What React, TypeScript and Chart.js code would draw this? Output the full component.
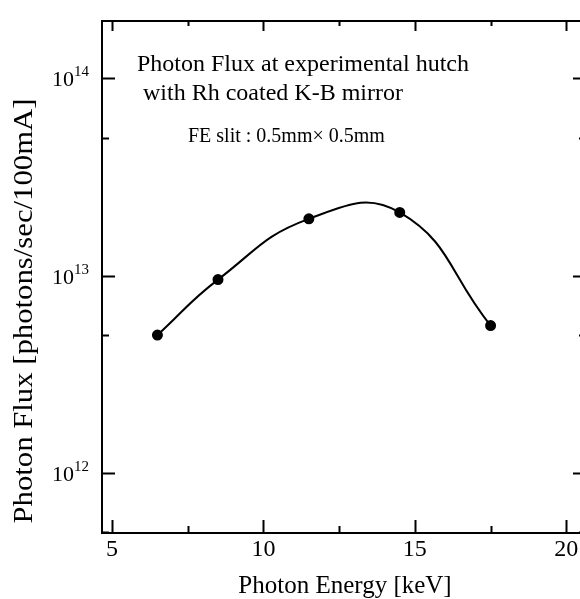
import React, { useEffect, useRef } from "react";
import { Chart, registerables } from "chart.js";

Chart.register(...registerables);

// ---- data ----
const photonEnergy = [6.5, 8.5, 11.5, 14.5, 17.5]; // keV
const photonFlux = [5.0e12, 9.55e12, 1.94e13, 2.09e13, 5.59e12]; // photons/sec/100mA

const xMajorTicks = [5, 10, 15, 20];
const xMinorTicks = [7.5, 12.5, 17.5];
const yMajorTicks = [1e12, 1e13, 1e14];
const yMinorTicks = [5e11, 5e12, 5e13];

const annotationLines = [
  "Photon Flux at experimental hutch",
  "with Rh coated K-B mirror",
  "FE slit : 0.5mm\u00d7 0.5mm",
];
const xTitle = "Photon Energy [keV]";
const yTitle = "Photon Flux [photons/sec/100mA]";

const SERIF = "'Liberation Serif', 'Times New Roman', serif";

const framePlugin = {
  id: "framePlugin",
  afterDraw(chart: any) {
    const { ctx, chartArea, scales } = chart;
    const xs = scales.x;
    const ys = scales.y;
    const { left, right, top, bottom } = chartArea;
    ctx.save();
    ctx.strokeStyle = "#000";
    ctx.fillStyle = "#000";
    ctx.lineWidth = 2;
    // frame
    ctx.beginPath();
    ctx.rect(left, top, right - left, bottom - top);
    ctx.stroke();
    // x ticks (bottom + top, inward)
    const drawX = (v: number, len: number, lenTop: number) => {
      const px = Math.round(xs.getPixelForValue(v)) + 0.5;
      ctx.beginPath();
      ctx.moveTo(px, bottom);
      ctx.lineTo(px, bottom - len);
      ctx.moveTo(px, top);
      ctx.lineTo(px, top + lenTop);
      ctx.stroke();
    };
    xMajorTicks.forEach((v) => drawX(v, 13, 10));
    xMinorTicks.forEach((v) => drawX(v, 7, 5));
    const drawY = (v: number, len: number) => {
      const py = Math.round(ys.getPixelForValue(v)) + 0.5;
      ctx.beginPath();
      ctx.moveTo(left, py);
      ctx.lineTo(left + len, py);
      ctx.moveTo(right, py);
      ctx.lineTo(right - len, py);
      ctx.stroke();
    };
    yMajorTicks.forEach((v) => drawY(v, 13));
    yMinorTicks.forEach((v) => drawY(v, 7));

    // y tick labels 10^n
    yMajorTicks.forEach((v) => {
      const py = ys.getPixelForValue(v);
      const exp = Math.round(Math.log10(v));
      ctx.font = `22px ${SERIF}`;
      ctx.textAlign = "right";
      ctx.textBaseline = "alphabetic";
      ctx.fillText("10", 74, py + 8);
      ctx.font = `15px ${SERIF}`;
      ctx.textAlign = "left";
      ctx.fillText(String(exp), 74, py - 2);
    });

    // annotations
    ctx.textAlign = "left";
    ctx.textBaseline = "alphabetic";
    ctx.font = `24px ${SERIF}`;
    ctx.fillText(annotationLines[0], 137, 71);
    ctx.fillText(annotationLines[1], 143, 100);
    ctx.font = `20px ${SERIF}`;
    ctx.fillText(annotationLines[2], 188, 142);

    // x title
    ctx.font = `25px ${SERIF}`;
    ctx.textAlign = "center";
    ctx.fillText(xTitle, 345, 593);

    // y title (rotated)
    ctx.save();
    ctx.translate(32, 311);
    ctx.rotate(-Math.PI / 2);
    ctx.font = `27px ${SERIF}`;
    const w = ctx.measureText(yTitle).width;
    const sx = 425 / w;
    ctx.scale(sx, 1);
    ctx.textAlign = "center";
    ctx.fillText(yTitle, 0, 0);
    ctx.restore();

    ctx.restore();
  },
};

export default function App() {
  const canvasRef = useRef<HTMLCanvasElement | null>(null);

  useEffect(() => {
    if (!canvasRef.current) return;
    const chart = new Chart(canvasRef.current, {
      type: "line",
      data: {
        datasets: [
          {
            data: photonEnergy.map((x, i) => ({ x, y: photonFlux[i] })),
            borderColor: "#000",
            backgroundColor: "#000",
            borderWidth: 2,
            pointRadius: 4.5,
            pointBackgroundColor: "#000",
            pointBorderColor: "#000",
            tension: 0.46,
            fill: false,
          },
        ],
      },
      options: {
        animation: false,
        responsive: false,
        events: [],
        layout: { padding: { left: 0, top: 21, right: 34, bottom: 0 } },
        plugins: {
          legend: { display: false },
          title: { display: false },
          tooltip: { enabled: false },
        },
        scales: {
          x: {
            type: "linear",
            min: 4.67,
            max: 20.65,
            grid: { display: false, drawTicks: false },
            border: { display: false },
            afterBuildTicks: (scale: any) => {
              scale.ticks = xMajorTicks.map((v) => ({ value: v }));
            },
            afterFit: (scale: any) => {
              scale.height = 66;
            },
            ticks: {
              autoSkip: false,
              maxRotation: 0,
              padding: 2,
              color: "#000",
              font: { family: SERIF, size: 24 },
              callback: (v: any) => String(v),
            },
          },
          y: {
            type: "logarithmic",
            min: 4.97e11,
            max: 1.95e14,
            grid: { display: false, drawTicks: false },
            border: { display: false },
            ticks: { display: false },
            afterFit: (scale: any) => {
              scale.width = 102;
            },
          },
        },
      },
      plugins: [framePlugin],
    } as any);
    return () => chart.destroy();
  }, []);

  return (
    <div
      style={{
        position: "fixed",
        left: 0,
        top: 0,
        width: 580,
        height: 599,
        overflow: "hidden",
        background: "#fff",
      }}
    >
      <canvas ref={canvasRef} width={620} height={599} style={{ display: "block" }} />
    </div>
  );
}
